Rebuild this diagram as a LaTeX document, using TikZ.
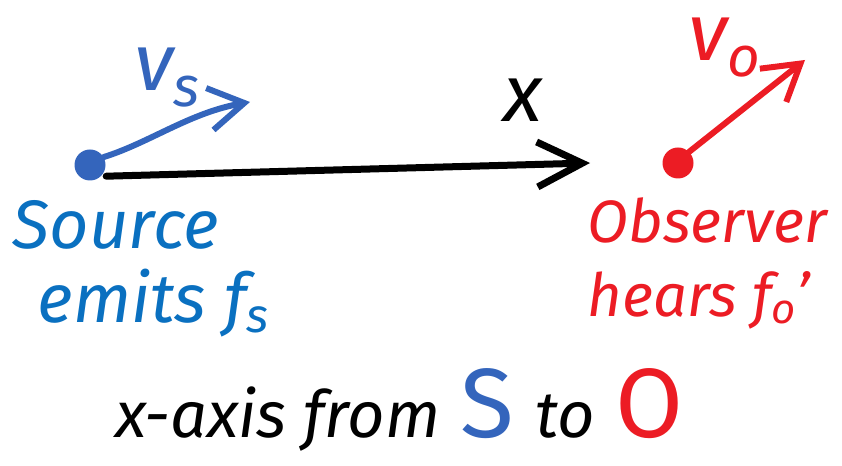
\documentclass[tikz,border=0pt]{standalone}
\usepackage{fontspec}
\setmainfont{Fira Sans}
\usetikzlibrary{arrows.meta,positioning,calc}
\definecolor{srcblue}{HTML}{3465BC}
\definecolor{txtblue}{HTML}{0A70C0}
\definecolor{obsred}{HTML}{EC1C24}

\begin{document}
\begin{tikzpicture}[>={Straight Barb[length=7mm,width=8.5mm]},line cap=round,line join=round,
  dot/.style={circle,fill,minimum size=6.2mm,inner sep=0pt},
  lbl/.style={font=\fontsize{37}{40}\selectfont\itshape,align=left,inner sep=0pt},
  vel/.style={font=\fontsize{46}{46}\selectfont\itshape,inner sep=0pt},
  big/.style={font=\fontsize{56}{56}\selectfont,inner sep=0pt,anchor=base west}]
\useasboundingbox (0,0) rectangle (16.84,9.3);
\node[dot,srcblue] (S) at (1.8,6.0) {};
\node[dot,obsred] (O) at (13.56,6.04) {};
\coordinate (vsend) at (5.0,7.26);
\coordinate (voend) at (16.1,8.1);
\coordinate (xend) at (11.8,6.04);
\draw[->,line width=1.4mm,>={Straight Barb[length=9mm,width=9mm]}] ([xshift=1mm]S.south east) -- (xend);
\draw[->,srcblue,line width=1.2mm] (S.30) .. controls (3.0,6.45) and (3.8,7.05) .. (vsend);
\draw[->,obsred,line width=1.2mm] (O.45) -- (voend);
\node[vel,srcblue] (vs) at (3.35,7.75) {v\textsubscript{s}};
\node[vel] (xl) at (10.45,7.3) {x};
\node[vel,obsred] (vo) at (14.5,8.35) {v\textsubscript{o}};
\node[lbl,txtblue,anchor=north west,font=\fontsize{39}{42}\selectfont\itshape] (srctxt) at (0.25,5.3) {Source\\\hspace{5mm}emits f\textsubscript{s}};
\node[lbl,obsred,anchor=north west,font=\fontsize{34}{42}\selectfont\itshape] (obstxt) at (11.75,5.35) {Observer\\hears f\textsubscript{o}'};
% x-axis line at the bottom
\node[lbl,anchor=base west] (axis) at (2.3,0.55) {x-axis from};
\node[big,srcblue] (axisS) at ([xshift=4mm]axis.base east) {S};
\node[lbl,anchor=base west] (axisto) at ([xshift=4mm]axisS.base east) {to};
\node[big,obsred] (axisO) at ([xshift=4mm]axisto.base east) {O};
\end{tikzpicture}
\end{document}
